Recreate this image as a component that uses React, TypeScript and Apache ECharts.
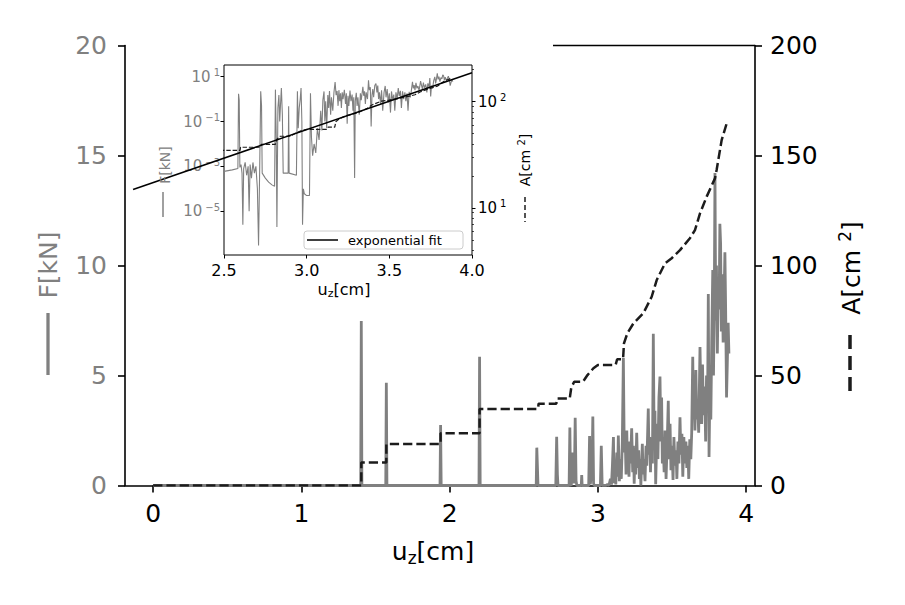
import React, { useEffect, useRef } from 'react';
import * as echarts from 'echarts';

const FONT = 'DejaVu Sans';
const GRAY = '#808080';
const DARK = '#1c1c1c';

// ---- tick values ----
const X_TICKS = [0, 1, 2, 3, 4];
const INSET_F_TICKS = [1e-5, 1e-3, 1e-1, 10];
const INSET_A_TICKS = [10, 100];
const INSET_A_MINOR = [4, 5, 6, 7, 8, 9, 20, 30, 40, 50, 60, 70, 80, 90, 200];

// ---- force F [kN] vs u_z [cm] ----
const forceCurve: [number, number][] = [
  [0, 0], [1.4, 0], [1.404, 7.48], [1.408, 0],
  [1.569, 0], [1.573, 4.67], [1.577, 0],
  [1.935, 0], [1.939, 2.75], [1.943, 0],
  [2.198, 0], [2.202, 5.85], [2.206, 0.0005],
  [2.45, 0.0006], [2.5, 0.0006], [2.55, 0.0007], [2.584, 0.0008],
  [2.588, 1.72], [2.592, 0.9], [2.596, 0.0009], [2.603, 0.0012], [2.609, 0.0005], [2.614, 0.0000025],
  [2.619, 0.0008], [2.628, 0.0015], [2.637, 0.0004], [2.646, 0.001], [2.652, 0.00001], [2.658, 0.0012],
  [2.666, 0.0003], [2.675, 0.0015], [2.684, 0.0005], [2.693, 0.001], [2.702, 0.0001], [2.709, 0.0000003],
  [2.716, 0.001], [2.722, 2.22], [2.727, 0.5], [2.731, 0.0005], [2.75, 0.0003], [2.77, 0.0002],
  [2.79, 0.00015], [2.806, 0.00013], [2.811, 2.64], [2.816, 0.02], [2.82, 0.000002], [2.826, 0.4],
  [2.832, 1.5], [2.837, 0.1], [2.842, 0.6], [2.847, 3.08], [2.853, 0.2], [2.858, 0.0005], [2.888, 0.0005],
  [2.891, 0.48], [2.894, 0.0005], [2.938, 0.0004], [2.944, 2.25], [2.949, 0.05], [2.955, 0.4], [2.961, 1.0],
  [2.966, 3.13], [2.971, 0.1], [2.975, 0.0000025], [2.98, 0.0001], [2.986, 0.00006], [3.0, 0.00005],
  [3.017, 0.00005], [3.023, 1.8], [3.029, 0.02], [3.036, 0.003], [3.045, 0.01], [3.055, 0.004],
  [3.065, 0.05], [3.075, 0.015], [3.085, 0.3], [3.092, 0.04], [3.098, 0.9], [3.105, 2.2], [3.11, 0.1],
  [3.115, 0.8], [3.121, 0.05], [3.128, 1.5], [3.133, 0.4], [3.138, 2.27], [3.145, 0.2], [3.15, 1.2],
  [3.158, 0.3], [3.165, 2.0], [3.172, 5.8], [3.178, 1.5], [3.184, 2.3], [3.19, 0.5], [3.195, 2.5],
  [3.2, 0.8], [3.205, 1.8], [3.21, 0.4], [3.215, 2.0], [3.22, 1.0], [3.228, 2.6], [3.235, 0.6],
  [3.24, 1.8], [3.245, 0.08], [3.25, 1.4], [3.255, 0.5], [3.262, 2.4], [3.268, 0.8], [3.275, 1.6],
  [3.28, 0.3], [3.285, 1.2], [3.29, 0.0003], [3.294, 0.8], [3.3, 1.9], [3.305, 0.5], [3.31, 1.2],
  [3.318, 0.2], [3.325, 1.8], [3.33, 0.9], [3.34, 3.5], [3.345, 1.4], [3.35, 2.2], [3.355, 0.6],
  [3.36, 2.0], [3.368, 1.0], [3.374, 6.9], [3.379, 2.5], [3.385, 3.4], [3.39, 0.06], [3.395, 1.5],
  [3.4, 2.8], [3.405, 1.2], [3.412, 4.0], [3.419, 4.95], [3.425, 2.0], [3.43, 4.0], [3.435, 1.0],
  [3.44, 2.0], [3.447, 0.6], [3.453, 2.5], [3.46, 0.3], [3.468, 2.0], [3.475, 3.85], [3.48, 1.2],
  [3.487, 2.8], [3.493, 0.7], [3.5, 1.8], [3.507, 0.25], [3.513, 2.2], [3.52, 0.9], [3.527, 1.6],
  [3.533, 0.3], [3.54, 2.0], [3.547, 1.0], [3.554, 3.1], [3.56, 1.4], [3.567, 2.35], [3.573, 0.4],
  [3.58, 2.2], [3.587, 1.0], [3.594, 2.0], [3.6, 0.8], [3.607, 1.8], [3.613, 0.3], [3.62, 2.1],
  [3.627, 1.2], [3.633, 2.4], [3.64, 5.85], [3.645, 3.0], [3.65, 4.2], [3.655, 2.5], [3.661, 5.25],
  [3.667, 3.0], [3.673, 3.8], [3.68, 2.4], [3.689, 6.3], [3.695, 4.0], [3.7, 2.8], [3.706, 5.5],
  [3.712, 3.2], [3.72, 4.5], [3.727, 2.0], [3.733, 5.0], [3.74, 3.5], [3.745, 8.7], [3.75, 1.3],
  [3.755, 4.0], [3.762, 3.0], [3.768, 6.5], [3.775, 9.8], [3.78, 5.0], [3.785, 8.0], [3.79, 14.2],
  [3.795, 7.5], [3.8, 10.0], [3.806, 6.0], [3.812, 9.0], [3.818, 8.0], [3.823, 11.9], [3.828, 11.0],
  [3.833, 7.0], [3.838, 9.6], [3.845, 6.5], [3.85, 8.0], [3.857, 10.6], [3.862, 8.0], [3.868, 4.0],
  [3.873, 5.5], [3.879, 7.4], [3.884, 6.0],
];

// ---- contact area A [cm^2] vs u_z [cm] ----
const areaCurve: [number, number][] = [
  [0, 0], [1.404, 0], [1.404, 10.4], [1.573, 10.4], [1.573, 18.9], [1.939, 18.9], [1.939, 23.7],
  [2.202, 23.7], [2.202, 34.8], [2.597, 34.8], [2.6, 37.2], [2.72, 37.2], [2.725, 39.5], [2.81, 39.5],
  [2.82, 44.2], [2.84, 47.2], [2.9, 47.2], [2.93, 50.2], [2.97, 53.3], [3.0, 54.8], [3.12, 54.8],
  [3.13, 57.4], [3.17, 57.4], [3.176, 64.6], [3.199, 69.2], [3.24, 73.7], [3.307, 78.3], [3.363, 85.8],
  [3.397, 93.4], [3.453, 101], [3.498, 103.3], [3.554, 107], [3.621, 112.4], [3.655, 116.1],
  [3.689, 123.7], [3.734, 131.3], [3.79, 139.6], [3.801, 143.4], [3.835, 157], [3.869, 164.6],
];

// ---- exponential fit of A (end points) ----
const fitLine: [number, number][] = [[1.95, 14.9], [4.0, 187]];

const insetForce = forceCurve.filter((p) => p[0] >= 2.44);
const insetArea = areaCurve.filter((p) => p[0] >= 2.2);

// inset geometry (px)
const INSET_LEFT = 224;
const INSET_W = 248;
const INSET_TOP = 65;
const INSET_H = 190;
const FIT_X_MIN = 1.95;
const FIT_GRID_LEFT = INSET_LEFT - ((2.5 - FIT_X_MIN) / 1.5) * INSET_W;

const powLabel = (v: number) => {
  const e = Math.round(Math.log10(v));
  return `{b|10}{s|${e < 0 ? '\u2212' + -e : e}}`;
};

const powRich = (color: string) => ({
  b: { fontSize: 15, color, fontFamily: FONT, lineHeight: 18 },
  s: { fontSize: 10, color, fontFamily: FONT, lineHeight: 8, verticalAlign: 'top', padding: [0, 0, 0, 3] },
});

const txt = (x: number, y: number, text: string, extra: any = {}, rot = 0) => ({
  type: 'text',
  x,
  y,
  rotation: rot,
  z: 50,
  style: {
    text,
    fontFamily: FONT,
    align: 'center',
    verticalAlign: 'middle',
    textAlign: 'center',
    textVerticalAlign: 'middle',
    ...extra,
  },
});

const option: any = {
  animation: false,
  backgroundColor: '#fff',
  grid: [
    { left: 125, top: 45.5, width: 630, height: 440, show: false },
    { left: INSET_LEFT, top: INSET_TOP, width: INSET_W, height: INSET_H, show: true, borderColor: '#000', borderWidth: 1, backgroundColor: 'transparent' },
    { left: FIT_GRID_LEFT, top: INSET_TOP, width: INSET_LEFT + INSET_W - FIT_GRID_LEFT, height: INSET_H, show: false },
  ],
  xAxis: [
    {
      type: 'value', gridIndex: 0, min: -0.19, max: 4.06, position: 'bottom',
      axisLine: { show: true, onZero: false, lineStyle: { color: '#000', width: 1.6 } },
      axisTick: { show: true, length: 7, customValues: X_TICKS, lineStyle: { color: '#000', width: 1.6 } },
      axisLabel: { customValues: X_TICKS, fontSize: 25, fontFamily: FONT, color: '#000', margin: 15 },
      splitLine: { show: false },
    },
    {
      type: 'value', gridIndex: 1, min: 2.5, max: 4.0, interval: 0.5, position: 'bottom',
      axisLine: { show: false, onZero: false },
      axisTick: { show: true, length: 3.5, lineStyle: { color: '#000', width: 1 } },
      axisLabel: { fontSize: 16, fontFamily: FONT, color: '#000', margin: 7, formatter: (v: number) => v.toFixed(1) },
      splitLine: { show: false },
    },
    {
      type: 'value', gridIndex: 2, min: FIT_X_MIN, max: 4.0, show: false,
      splitLine: { show: false },
    },
  ],
  yAxis: [
    {
      type: 'value', gridIndex: 0, position: 'left', min: 0, max: 20, interval: 5,
      axisLine: { show: true, onZero: false, lineStyle: { color: '#000', width: 1.6 } },
      axisTick: { show: true, length: 7, lineStyle: { color: '#000', width: 1.6 } },
      axisLabel: { fontSize: 25, fontFamily: FONT, color: GRAY, margin: 18 },
      splitLine: { show: false },
    },
    {
      type: 'value', gridIndex: 0, position: 'right', min: 0, max: 200, interval: 50,
      axisLine: { show: true, onZero: false, lineStyle: { color: '#000', width: 1.6 } },
      axisTick: { show: true, length: 7, lineStyle: { color: '#000', width: 1.6 } },
      axisLabel: { fontSize: 25, fontFamily: FONT, color: '#000', margin: 15 },
      splitLine: { show: false },
    },
    {
      type: 'log', logBase: 10, gridIndex: 1, position: 'left', min: 1.12e-7, max: 33.1,
      axisLine: { show: false },
      axisTick: { show: true, length: 3.5, customValues: INSET_F_TICKS, lineStyle: { color: '#000', width: 1 } },
      axisLabel: { customValues: INSET_F_TICKS, formatter: powLabel, rich: powRich(GRAY), margin: 4 },
      splitLine: { show: false },
      minorTick: { show: false },
    },
    {
      type: 'log', logBase: 10, gridIndex: 1, position: 'right', min: 3.6, max: 221,
      axisLine: { show: false },
      axisTick: { show: true, length: 3.5, customValues: INSET_A_TICKS, lineStyle: { color: '#000', width: 1 } },
      axisLabel: { customValues: INSET_A_TICKS, formatter: powLabel, rich: powRich('#000'), margin: 6 },
      splitLine: { show: false },
    },
    {
      type: 'log', logBase: 10, gridIndex: 1, position: 'right', min: 3.6, max: 221,
      axisLine: { show: false },
      axisTick: { show: true, length: 2, customValues: INSET_A_MINOR, lineStyle: { color: '#000', width: 0.7 } },
      axisLabel: { show: false },
      splitLine: { show: false },
    },
    {
      type: 'log', logBase: 10, gridIndex: 2, min: 3.6, max: 221, show: false,
      splitLine: { show: false },
    },
  ],
  series: [
    {
      type: 'line', name: 'F', xAxisIndex: 0, yAxisIndex: 0, data: forceCurve,
      symbol: 'none', showSymbol: false, lineStyle: { color: GRAY, width: 2.8 }, z: 2,
    },
    {
      type: 'line', name: 'A', xAxisIndex: 0, yAxisIndex: 1, data: areaCurve,
      symbol: 'none', showSymbol: false, lineStyle: { color: DARK, width: 2.5, type: [9.25, 4] }, z: 3,
    },
    {
      type: 'line', name: 'F inset', xAxisIndex: 1, yAxisIndex: 2, data: insetForce,
      symbol: 'none', showSymbol: false, lineStyle: { color: GRAY, width: 1.1 }, z: 4,
    },
    {
      type: 'line', name: 'A inset', xAxisIndex: 1, yAxisIndex: 3, data: insetArea,
      symbol: 'none', showSymbol: false, lineStyle: { color: DARK, width: 1.2, type: [4.4, 1.9] }, z: 5,
    },
    {
      type: 'line', name: 'exponential fit', xAxisIndex: 2, yAxisIndex: 5, data: fitLine, clip: false,
      symbol: 'none', showSymbol: false, lineStyle: { color: '#000', width: 1.5 }, z: 6,
    },
  ],
  graphic: [
    { type: 'line', z: 50, shape: { x1: 553, y1: 45.5, x2: 755, y2: 45.5 }, style: { stroke: '#000', lineWidth: 1.6 } },
    // main y-left title
    txt(48, 265, 'F[kN]', { fontSize: 25, fill: GRAY }, Math.PI / 2),
    { type: 'line', z: 50, shape: { x1: 48, y1: 313, x2: 48, y2: 375 }, style: { stroke: GRAY, lineWidth: 3.3 } },
    // main y-right title
    txt(851, 268, '{a|A[cm }{s|2}{a|]}', {
      rich: {
        a: { fontSize: 25, fontFamily: FONT, fill: '#000', lineHeight: 30 },
        s: { fontSize: 17, fontFamily: FONT, fill: '#000', lineHeight: 12, verticalAlign: 'top' },
      },
    }, Math.PI / 2),
    { type: 'line', z: 50, shape: { x1: 850, y1: 335, x2: 850, y2: 391 }, style: { stroke: DARK, lineWidth: 3.5, lineDash: [14, 7] } },
    // main x title
    txt(433, 551, '{a|u}{s|z}{a|[cm]}', {
      rich: {
        a: { fontSize: 25, fontFamily: FONT, fill: '#000', lineHeight: 30 },
        s: { fontSize: 17, fontFamily: FONT, fill: '#000', lineHeight: 12, verticalAlign: 'bottom' },
      },
    }),
    // inset x title
    txt(344, 289, '{a|u}{s|z}{a|[cm]}', {
      rich: {
        a: { fontSize: 16, fontFamily: FONT, fill: '#000', lineHeight: 20 },
        s: { fontSize: 11, fontFamily: FONT, fill: '#000', lineHeight: 8, verticalAlign: 'bottom' },
      },
    }),
    // inset y-left title
    txt(165, 165, 'F[kN]', { fontSize: 14, fill: GRAY }, Math.PI / 2),
    { type: 'line', z: 50, shape: { x1: 163, y1: 192, x2: 163, y2: 217 }, style: { stroke: GRAY, lineWidth: 1.5 } },
    // inset y-right title
    txt(525, 160, '{a|A[cm }{s|2}{a|]}', {
      rich: {
        a: { fontSize: 14, fontFamily: FONT, fill: '#000', lineHeight: 17 },
        s: { fontSize: 10, fontFamily: FONT, fill: '#000', lineHeight: 7, verticalAlign: 'top' },
      },
    }, Math.PI / 2),
    { type: 'line', z: 50, shape: { x1: 525, y1: 197, x2: 525, y2: 222 }, style: { stroke: DARK, lineWidth: 1.5, lineDash: [5, 3] } },
    // legend
    { type: 'rect', z: 49, shape: { x: 304, y: 231, width: 159, height: 18, r: 3 }, style: { stroke: '#cccccc', lineWidth: 1, fill: 'rgba(255,255,255,0.8)' } },
    { type: 'line', z: 50, shape: { x1: 307, y1: 240, x2: 338, y2: 240 }, style: { stroke: '#000', lineWidth: 1.5 } },
    txt(348, 240, 'exponential fit', { fontSize: 13, fill: '#000', align: 'left', textAlign: 'left' }),
  ],
};

export default function App() {
  const ref = useRef<HTMLDivElement>(null);
  useEffect(() => {
    const chart = echarts.init(ref.current as HTMLDivElement, null, { renderer: 'svg' });
    chart.setOption(option);
    return () => chart.dispose();
  }, []);
  return (
    <div
      ref={ref}
      style={{ position: 'fixed', left: 0, top: 0, width: 905, height: 605, background: '#fff' }}
    />
  );
}
